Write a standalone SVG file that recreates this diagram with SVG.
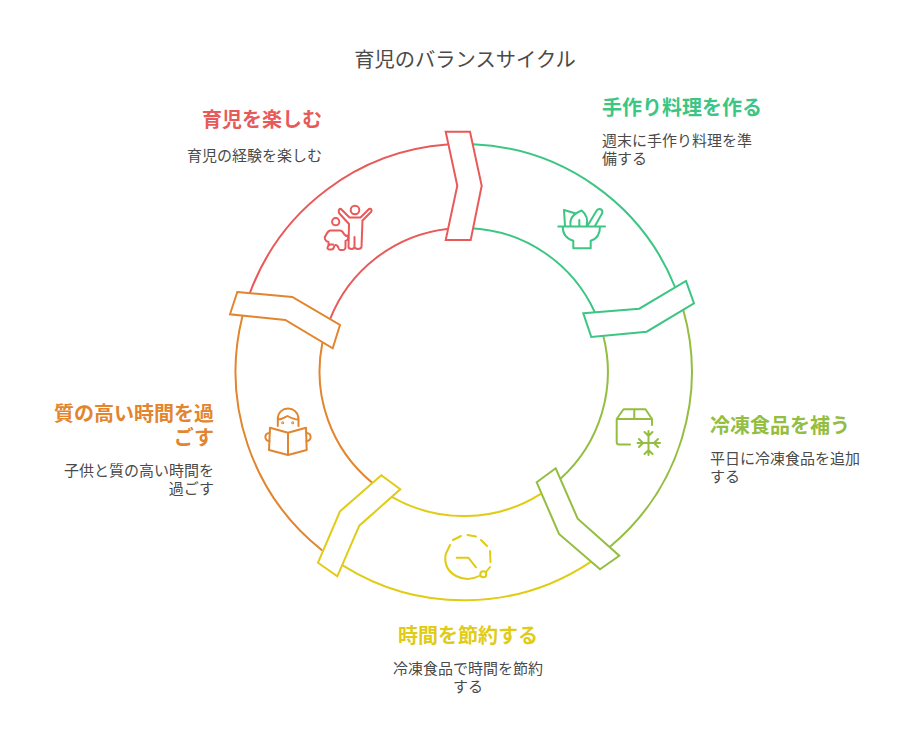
<svg xmlns="http://www.w3.org/2000/svg" width="924" height="744" viewBox="0 0 924 744">
<style>
text{font-family:"Noto Sans CJK JP","Noto Sans",sans-serif;fill:#4a4a4a}
.t{font-size:20.3px}
.h{font-size:20px;font-weight:700}
.b{font-size:15px}
.e{text-anchor:end}
.m{text-anchor:middle}
.l{fill:none;stroke-width:2;stroke-linecap:round;stroke-linejoin:round}
.s{fill:#fff;stroke-width:2;stroke-linejoin:miter}
.red{stroke:#e85a5a}.grn{stroke:#3cc583}.lim{stroke:#93be3f}.yel{stroke:#e0cb15}.org{stroke:#e2852e}
</style>
<rect width="924" height="744" fill="#fff"/>
<text class="t m" x="465" y="67">育児のバランスサイクル</text>
<g id="connectors">
<path class="l red" d="M250 292.700A228 228 0 0 1 447 144.600M330 319.300A144 144 0 0 1 447 229"/>
<path class="l grn" d="M473 144.200A228 228 0 0 1 675 287M472 228.200A144 144 0 0 1 595 312.700"/>
<path class="l lim" d="M683.300 310A228 228 0 0 1 610 546.700M603.300 336A144 144 0 0 1 561 478.300"/>
<path class="l yel" d="M590 562.300A228 228 0 0 1 342.700 565.300M540 494.300A144 144 0 0 1 392.700 497.300"/>
<path class="l org" d="M321.700 550A228 228 0 0 1 242.300 316.700M371.700 482.300A144 144 0 0 1 322.300 343.300"/>
</g>
<g id="node-red">
<path class="s red" d="M445.700 131.700H470L481.700 185.700L470.700 240H445.700L457.300 185.700Z"/>
<text class="h e" style="fill:#e85a5a" x="322" y="127">育児を楽しむ</text>
<text class="b e" x="322" y="160.500">育児の経験を楽しむ</text>
<g class="l red">
<circle cx="355" cy="210" r="4.300"/>
<path d="M341 209L349.500 217.500H360.500L369 209C371 208 372.500 210 371 212L362.500 220.500L361.500 247C361 249.500 355 249.500 354.500 247V237V247C354 249.500 349 249.500 348.500 247L349 224L339 213C338 210 339.500 208.500 341 209Z"/>
<circle cx="335.700" cy="221.700" r="3.600"/>
<path d="M330 230.500H340C342 230.500 343 232 344 234L346 236L347.500 235.500C349 238 348 240 345.500 241V245C345.500 247 346 250 342.500 250H340C338 250 339 245 335.500 245C333 245 335 249.500 331.500 249.500H329.500C326.500 249.500 327 246 330 244.500H333M326 235C323.500 238 325 241 328.500 242V245M330 230.500C328 231 327 233 326 235"/>
</g>
</g>
<g id="node-green">
<path class="s grn" d="M583.300 313.300L639.300 308.700L686 281L694 303.300L646.700 331.700L591.300 337Z"/>
<text class="h" style="fill:#3cc583" x="602" y="115">手作り料理を作る</text>
<text class="b" x="602" y="146">週末に手作り料理を準</text>
<text class="b" x="602" y="164">備する</text>
<g class="l grn">
<path d="M558.300 226.500H605M562.700 226.500C562.700 234 567 239 573.300 240.700V248.300H590.700V240.700C597 239 600 234 600 226.500"/>
<path d="M565 226L564 210L575 213.300M570.700 226C569 218 575 213 581.700 210.500C586 214 588 220 586.700 226M579.300 220V226M588 225L596.700 210.500C599 208 603 209 602.300 213L595 226"/>
</g>
</g>
<g id="node-lime">
<path class="s lim" d="M536.700 482.300L555.700 468.300L577.700 518.700L619.300 555.700L600 569.300L559 534Z"/>
<text class="h" style="fill:#93be3f" x="710" y="433">冷凍食品を補う</text>
<text class="b" x="710" y="463.500">平日に冷凍食品を追加</text>
<text class="b" x="710" y="481.500">する</text>
<g class="l lim">
<path d="M630 444.500H619Q616.700 444.500 616.700 442V419L623.500 409.300H645.500L652 419V425M616.700 419H652M634.300 409.300V419"/>
<path d="M648.500 431V455M637.500 443H660M644.500 432L648.500 436L652.500 432M644.500 454L648.500 450L652.500 454M639 439L643 443L639 447M658 439L654 443L658 447"/>
</g>
</g>
<g id="node-yellow">
<path class="s yel" d="M381.300 475.300L400.300 489.300L359.300 525.700L337.300 576.300L318 562.700L340 511.300Z"/>
<text class="h m" style="fill:#e0cb15" x="468" y="643">時間を節約する</text>
<text class="b m" x="468" y="673.500">冷凍食品で時間を節約</text>
<text class="b m" x="468" y="691.500">する</text>
<g class="l yel">
<path d="M445.500 555C443 575 465 584 479 576M445.800 554L450 545M453 540L461 536M467.500 535L476 536.500M481 540L487 546M490 551L490.500 562M490 567L486 572"/>
<circle cx="483.300" cy="574.300" r="3"/>
<path d="M456.700 557.700H468.300L476 567.300"/>
</g>
</g>
<g id="node-orange">
<path class="s org" d="M237.300 292L292.300 297L340 325L332.700 348.300L285.300 320L230 314.300Z"/>
<text class="h e" style="fill:#e2852e" x="214" y="421">質の高い時間を過</text>
<text class="h e" style="fill:#e2852e" x="214" y="445">ごす</text>
<text class="b e" x="214" y="475.500">子供と質の高い時間を</text>
<text class="b e" x="214" y="493.500">過ごす</text>
<g class="l org">
<path d="M277.800 426V419C278 405 298 405 298.500 419V426M278 419.500C282 419.500 284 418 287.500 416C291 418 294 419.500 298.500 419.500"/>
<path d="M270 427.700L288 432.700L306 427.700L306.700 450L288 455L269 450ZM288 432.700V455"/>
<path d="M269.500 433C264 433 264 441 269.500 441M306.500 433C312 433 312 441 306.500 441"/>
<circle cx="282.700" cy="422.700" r=".5"/><circle cx="292.700" cy="422.700" r=".5"/>
</g>
</g>
</svg>
